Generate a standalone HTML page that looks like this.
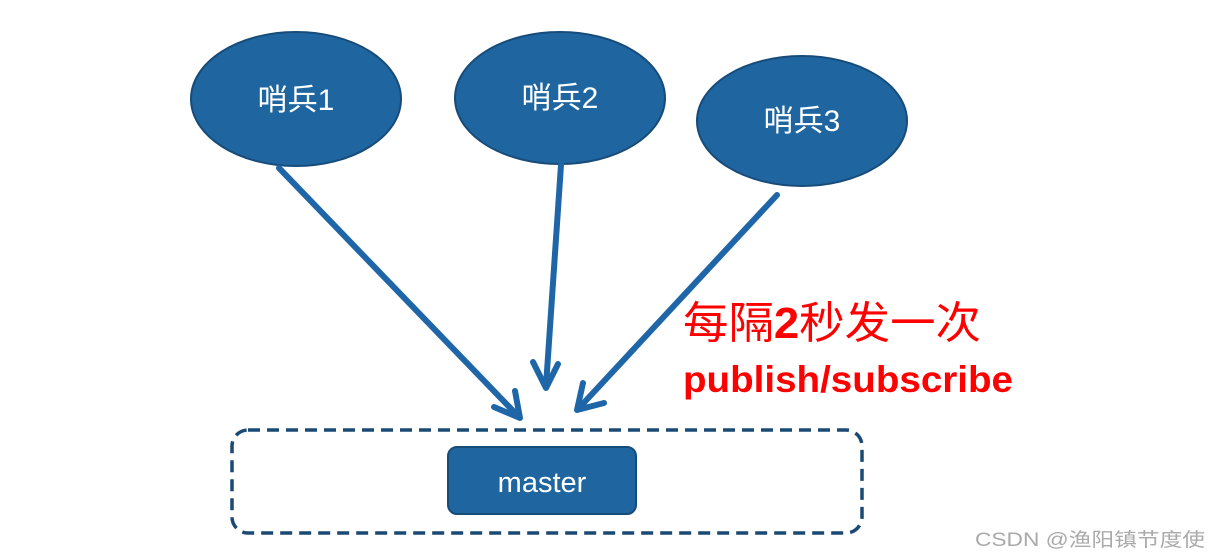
<!DOCTYPE html>
<html><head><meta charset="utf-8"><style>
html,body{margin:0;padding:0;background:#fff;}
svg{display:block;}
</style></head><body>
<svg width="1210" height="557" viewBox="0 0 1210 557" xmlns="http://www.w3.org/2000/svg">
<g fill="#1f66a0" stroke="#174c7a" stroke-width="2">
<ellipse cx="296" cy="99" rx="105" ry="67"/>
<ellipse cx="560" cy="98" rx="105" ry="66"/>
<ellipse cx="802" cy="121" rx="105" ry="65"/>
</g>
<g fill="#fff" font-family="Liberation Sans, Noto Sans CJK SC, sans-serif" font-size="30" text-anchor="middle">
<text x="296" y="110">哨兵1</text>
<text x="560" y="108">哨兵2</text>
<text x="802" y="131">哨兵3</text>
</g>
<g stroke="#1f66a8" stroke-width="6" fill="none" stroke-linecap="round" stroke-linejoin="round">
<line x1="279" y1="168" x2="518" y2="416"/>
<polyline points="494,407 520,418 515,391"/>
<line x1="561" y1="165" x2="546" y2="386"/>
<polyline points="533,362 546,388 558,364"/>
<line x1="777" y1="195" x2="579" y2="408"/>
<polyline points="583,383 577,410 604,403"/>
</g>
<rect x="232" y="430" width="630" height="103" rx="16" fill="none" stroke="#1a4a74" stroke-width="3.5" stroke-dasharray="12,7"/>
<rect x="448" y="447" width="188" height="67" rx="9" fill="#1f66a0" stroke="#174c7a" stroke-width="2"/>
<text x="542" y="492" fill="#fff" font-family="Liberation Sans, sans-serif" font-size="29" text-anchor="middle">master</text>
<text x="683" y="338" fill="#ff0000" font-family="Liberation Sans, Noto Sans CJK SC, sans-serif" font-size="44" textLength="298" lengthAdjust="spacingAndGlyphs">每隔<tspan font-weight="bold">2</tspan>秒发一次</text>
<text x="683" y="392" fill="#ff0000" font-family="Liberation Sans, sans-serif" font-size="37" font-weight="bold" textLength="330" lengthAdjust="spacingAndGlyphs">publish/subscribe</text>
<text x="975" y="546" fill="#aaa" font-family="Liberation Sans, Noto Sans CJK SC, sans-serif" font-size="19" textLength="230" lengthAdjust="spacingAndGlyphs">CSDN @渔阳镇节度使</text>
</svg>
</body></html>
